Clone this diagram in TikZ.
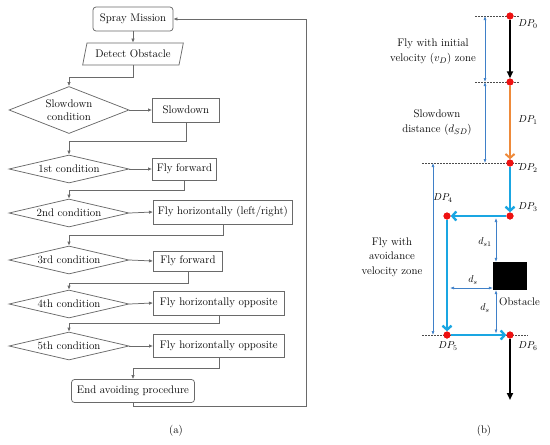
\documentclass[tikz,border=0pt]{standalone}
\usetikzlibrary{shapes.geometric,arrows.meta,calc}
\definecolor{lgray}{HTML}{6A6A6A}
\definecolor{cyanA}{HTML}{1AA6E2}
\definecolor{orangeA}{HTML}{EE8A3A}
\definecolor{dimblue}{HTML}{3F80C8}
\definecolor{dotred}{HTML}{EE1111}
\begin{document}
\begin{tikzpicture}[x=1pt,y=-1pt,
  txt/.style={font=\fontsize{11}{13}\selectfont},
  box/.style={txt,draw=lgray,line width=0.75pt,minimum height=24pt,inner xsep=2pt,inner ysep=0pt},
  rbox/.style={box,rounded corners=3pt},
  cond/.style={txt,draw=lgray,line width=0.75pt,diamond,aspect=4.3,minimum width=120pt,minimum height=28pt,inner sep=0pt,align=center},
  flow/.style={draw=lgray,line width=0.75pt,-{Latex[length=4pt,width=3.5pt]}},
  dp/.style={circle,fill=dotred,minimum size=7pt,inner sep=0pt},
  dplab/.style={font=\fontsize{10}{11}\selectfont},
  cy/.style={draw=cyanA,line width=2.4pt,-{Straight Barb[length=4pt,width=9pt]}},
  dimarrow/.style={draw=dimblue,line width=0.6pt,{Latex[length=4pt,width=3pt]}-{Latex[length=4pt,width=3pt]}},
  dashln/.style={draw=gray!60!black,line width=0.5pt,dash pattern=on 1.5pt off 1.5pt}]
\useasboundingbox (0,0) rectangle (550,445);
% ---------------- (a) flowchart ----------------
\node[rbox,minimum width=80pt] (spray) at (133,19) {Spray Mission};
\node[txt,draw=lgray,line width=0.75pt,trapezium,trapezium left angle=66,trapezium right angle=114,
      trapezium stretches=true,minimum width=101pt,minimum height=22pt,inner sep=0pt] (detect) at (133,54) {Detect Obstacle};
\node[cond,aspect=2.55,minimum height=47pt] (sdc) at (69,110) {Slowdown\\condition};
\node[box,anchor=west,minimum width=67pt] (slow) at (152,110) {Slowdown};
\node[cond] (c1) at (69,169) {1st condition};
\node[box,anchor=west,minimum width=64pt,minimum height=22pt] (ff1) at (152,169) {Fly forward};
\node[cond] (c2) at (69,213) {2nd condition};
\node[box,anchor=west,minimum width=139pt] (fh1) at (153,212) {Fly horizontally (left/right)};
\node[cond] (c3) at (69,260) {3rd condition};
\node[box,anchor=west,minimum width=69pt,minimum height=20pt] (ff2) at (153,261) {Fly forward};
\node[cond] (c4) at (69,304) {4th condition};
\node[box,anchor=west,minimum width=131pt] (fho1) at (153,303) {Fly horizontally opposite};
\node[cond] (c5) at (69,346) {5th condition};
\node[box,anchor=west,minimum width=131pt,minimum height=23pt] (fho2) at (153,346) {Fly horizontally opposite};
\node[rbox,minimum width=123pt,minimum height=23pt] (endp) at (133,391) {End avoiding procedure};
\coordinate (fb) at (306,406);

\draw[flow] (spray) -- (detect);
\draw[flow] (detect.south) -- ++(0,12) -| (sdc.north);
\draw[flow] (sdc.east) -- (slow.west);
\draw[flow] (slow.south) -- ++(0,19) -| (c1.north);
\draw[flow] (c1.east) -- (ff1.west);
\draw[flow] (ff1.south) -- ++(0,10) -| (c2.north);
\draw[flow] (c2.east) -- (fh1.west);
\draw[flow] (fh1.south) -- ++(0,11) -| (c3.north);
\draw[flow] (c3.east) -- (ff2.west);
\draw[flow] (ff2.south) -- ++(0,12) -| (c4.north);
\draw[flow] (c4.east) -- (fho1.west);
\draw[flow] (fho1.south) -- ++(0,8) -| (c5.north);
\draw[flow] (c5.east) -- (fho2.west);
\draw[flow] (fho2.south) -- ++(0,10) -| (endp.north);
\draw[flow] (endp.south) |- (fb) |- (spray.east);
\node[txt] (capa) at (176,431) {(a)};
% ---------------- (b) path diagram ----------------
\node[dp] (dp0) at (510,16) {};
\node[dp] (dp1) at (510,82) {};
\node[dp] (dp2) at (510,163) {};
\node[dp] (dp3) at (510,216) {};
\node[dp] (dp4) at (447,216) {};
\node[dp] (dp5) at (447,335) {};
\node[dp] (dp6) at (510,335) {};
\coordinate (pend) at (510,400);
\node[fill=black,minimum width=34pt,minimum height=28pt,inner sep=0pt] (obs) at (510,276) {};

% dashed reference lines
\draw[dashln] ($(dp0)+(-35,0)$) -- ($(dp0)+(10,0)$);
\draw[dashln] ($(dp1)+(-35,0)$) -- ($(dp1)+(10,0)$);
\draw[dashln] ($(dp2)+(-88,0)$) -- ($(dp2)+(10,0)$);
\draw[dashln] ($(dp5)+(-25,0)$) -- ($(dp6)+(18,0)$);

% flight path
\draw[line width=2pt,-{Triangle[length=7pt,width=6pt]}] (dp0) -- (dp1);
\draw[draw=orangeA,line width=2pt,-{Straight Barb[length=4pt,width=9pt]}] (dp1) -- (dp2);
\draw[cy] (dp2) -- (dp3);
\draw[cy] (dp3) -- (dp4);
\draw[cy] (dp4) -- (dp5);
\draw[cy] (dp5) -- (dp6);
\draw[line width=2pt,-{Triangle[length=7pt,width=6pt]}] (dp6) -- (pend);
\foreach \n in {dp0,dp1,dp2,dp3,dp4,dp5,dp6} \node[dp] at (\n) {};

% dimensions
\coordinate (dA) at (485,0);
\coordinate (dB) at (433,0);
\coordinate (dC) at (496,0);
\coordinate (dsh) at (450,288);
\draw[dimarrow] (dA |- dp0) -- (dA |- dp1);
\draw[dimarrow] (dA |- dp1) -- (dA |- dp2);
\draw[dimarrow] (dB |- dp2) -- (dB |- dp5);
\draw[dimarrow,shorten <=2pt] (dC |- dp3) -- (dC |- obs.north);
\draw[dimarrow] (dsh) -- (dsh -| obs.west);
\draw[dimarrow,shorten >=1.5pt] (dC |- obs.south) -- (dC |- dp5);

% labels
\node[dplab] (l0) at (528,24) {$DP_0$};
\node[dplab] (l1) at (528,120) {$DP_1$};
\node[dplab] (l2) at (528,168) {$DP_2$};
\node[dplab] (l3) at (528,207) {$DP_3$};
\node[dplab] (l4) at (443,198) {$DP_4$};
\node[dplab] (l5) at (448,346) {$DP_5$};
\node[dplab] (l6) at (528,346) {$DP_6$};
\node[dplab] (ls1) at (485,242) {$d_{s1}$};
\node[dplab] (ls2) at (473,280) {$d_s$};
\node[dplab] (ls3) at (485,308) {$d_s$};
\node[txt,anchor=west,inner sep=1pt] (obl) at (498,302) {Obstacle};
\node[txt,align=center,font=\fontsize{11}{15}\selectfont] (z1) at (433,52) {Fly with initial\\velocity ($v_D$) zone};
\node[txt,align=center,font=\fontsize{11}{15}\selectfont] (z2) at (437,123) {Slowdown\\distance ($d_{SD}$)};
\node[txt,align=center,font=\fontsize{11}{14.5}\selectfont] (z3) at (392,257) {Fly with\\avoidance\\velocity zone};
\node[txt] (capb) at (484,431) {(b)};
\end{tikzpicture}
\end{document}
